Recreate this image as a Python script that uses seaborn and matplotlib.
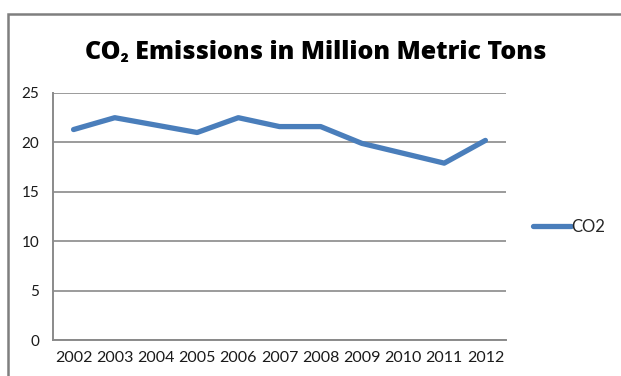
import matplotlib
matplotlib.use("Agg")
import matplotlib.pyplot as plt
import matplotlib.patches as mpatches
import seaborn as sns
import pandas as pd

# data
years = ["2002", "2003", "2004", "2005", "2006", "2007",
         "2008", "2009", "2010", "2011", "2012"]
co2 = [21.3, 22.5, 21.75, 21.0, 22.5, 21.6, 21.6, 19.9, 18.9, 17.9, 20.2]
y_ticks = [0, 5, 10, 15, 20, 25]

df = pd.DataFrame({"pos": range(len(years)), "CO2": co2})

sns.set_style("white")
plt.rcParams["font.family"] = ["Lato", "DejaVu Sans"]

grey = "#8a8a8a"
blue = "#4a7ebb"

fig = plt.figure(figsize=(6.21, 3.76), dpi=100)
ax = fig.add_axes([0.0853, 0.0957, 0.7295, 0.657])

# outer chart border (cropped on right and bottom like the screenshot)
fig.patches.append(mpatches.Rectangle((8 / 621, -0.1), 1.2, 1 - 14 / 376 + 0.1,
                                      transform=fig.transFigure, fill=False,
                                      edgecolor="#7f7f7f", linewidth=1.8))

sns.lineplot(data=df, x="pos", y="CO2", ax=ax, color=blue, linewidth=3.8,
             solid_capstyle="round", solid_joinstyle="round", legend=False)

ax.set_xlim(-0.5, len(years) - 0.5)
ax.set_ylim(0, 25)
ax.set_yticks(y_ticks)
ax.yaxis.grid(True, color=grey, linewidth=1.2)
ax.set_axisbelow(True)

ax.set_xticks(range(len(years)))
ax.set_xticklabels(years)
ax.set_xticks([i - 0.5 for i in range(len(years) + 1)], minor=True)
ax.tick_params(axis="x", which="major", length=0, pad=8, labelsize=11.5,
               labelcolor="#1a1a1a")
ax.tick_params(axis="x", which="minor", length=4, width=1.2, color=grey,
               direction="out")
ax.tick_params(axis="y", length=4, width=1.2, color=grey, direction="out",
               labelsize=11, labelcolor="#1a1a1a", pad=6)

for side in ["top", "right"]:
    ax.spines[side].set_visible(False)
for side in ["left", "bottom"]:
    ax.spines[side].set_color(grey)
    ax.spines[side].set_linewidth(1.4)

ax.set_xlabel("")
ax.set_ylabel("")

fig.text(316 / 621, 1 - 52 / 376, "CO\u2082 Emissions in Million Metric Tons",
         ha="center", va="center", fontsize=18, fontweight="heavy",
         color="#000000", family=["Open Sans", "Lato", "DejaVu Sans"])

# legend
handle = plt.Line2D([], [], color=blue, linewidth=3.8, solid_capstyle="round")
fig.legend([handle], ["CO2"], loc="center left",
           bbox_to_anchor=(533 / 621, 1 - 227 / 376), frameon=False,
           handlelength=2.3, handletextpad=0.0, fontsize=12,
           borderpad=0, borderaxespad=0)

fig.savefig("out.png", dpi=100)
